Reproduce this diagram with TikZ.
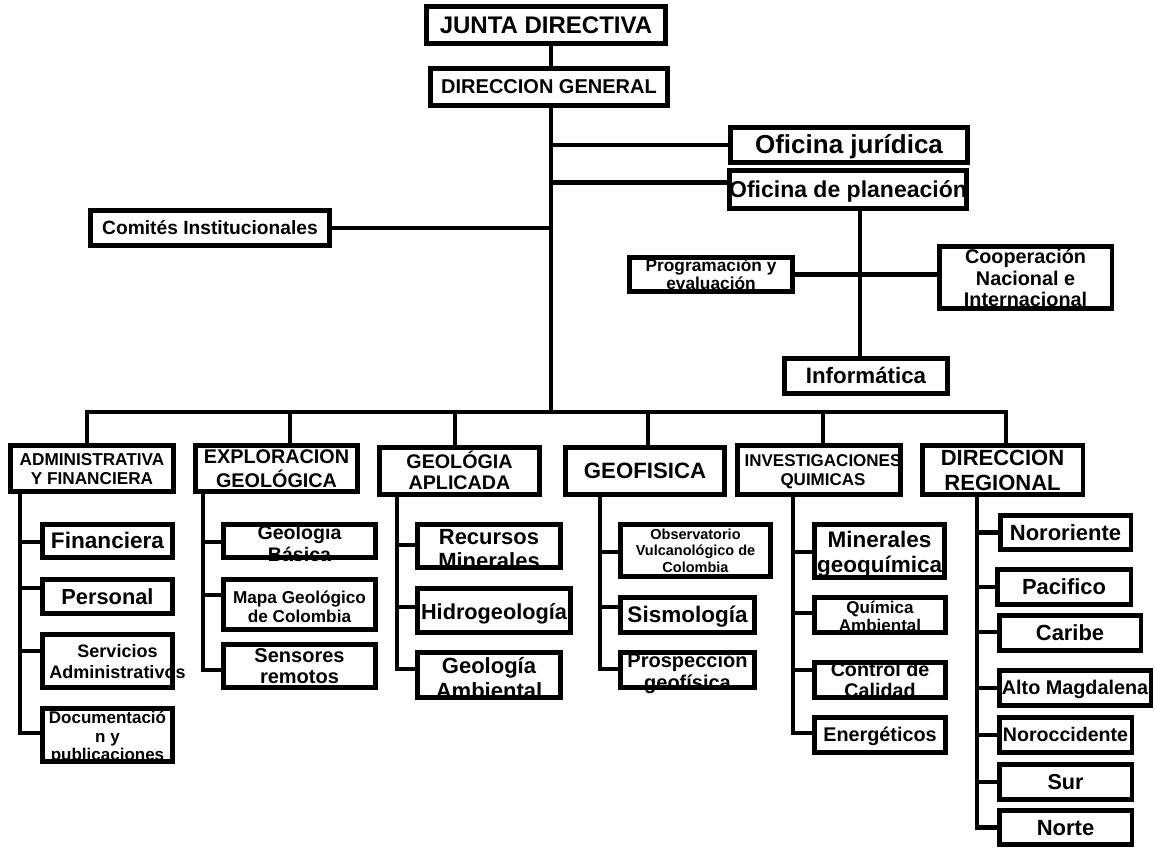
\documentclass[tikz,border=0pt]{standalone}
\usepackage{fontspec}
\setmainfont{Liberation Sans}
\usetikzlibrary{calc}

% 1 unit = 1 px of a 1155 x 848 canvas, y growing downwards
\newdimen\px \px=0.75pt
\newcommand\fsz[2]{\fontsize{\fpeval{#1*0.75}pt}{\fpeval{#2*0.75}pt}\selectfont\bfseries}
% zero-size text block, centred on the node and shifted by (dx,dy) px
\newcommand\zc[3]{\vbox to 0pt{\kern#2\px\kern#2\px\kern.26em\vss
  \hbox to 0pt{\hss\kern#1\px\kern#1\px\begin{tabular}{@{}c@{}}#3\end{tabular}\hss}\vss}}
% box given by its outer corners (x1,y1)-(x2,y2), font size and leading in px
\newcommand\bx[8]{%
  \pgfmathsetmacro\bw{(#4-#2-4.5)*0.75}%
  \pgfmathsetmacro\bh{(#5-#3-4.5)*0.75}%
  \node[box, minimum width=\bw pt, minimum height=\bh pt, font=\fsz{#6}{#7}]
    (#1) at ({(#2+#4)/2},{(#3+#5)/2}) {#8};}
% branch from a vertical line to the west side of a box
\newcommand\br[3]{\draw[ln] ($(#2.west)+(0,#3)$) coordinate (#2-b) -- (#1 |- #2-b);}

\tikzset{
  box/.style={shape=rectangle, inner sep=0pt, outer sep=0pt},
  frame/.style={draw=black, line width=3.4pt},
  ln/.style={draw=black, line width=3.3pt, line cap=rect}
}

\begin{document}
\begin{tikzpicture}[x=0.75pt, y=-0.75pt]
\useasboundingbox (0,0) rectangle (1155,848);

% --- upper part
\bx{jd}{424}{4}{668}{46}{24}{26}{\zc{0}{0}{JUNTA DIRECTIVA}}
\bx{dg}{428}{66}{670}{108}{20}{22}{\zc{0}{0}{DIRECCION GENERAL}}
\bx{oj}{728}{125}{970}{165}{26}{28}{\zc{0}{0}{Oficina jurídica}}
\bx{op}{727}{168}{969}{211}{23}{25}{\zc{0}{0}{Oficina de planeación}}
\bx{ci}{88}{208}{332}{248}{19.2}{21}{\zc{0}{0}{Comités Institucionales}}
\bx{pe}{627}{255}{795}{294}{17.3}{18}{\zc{0}{0}{Programación y\\evaluación}}
\bx{co}{937}{244}{1114}{311}{19.8}{21.5}{\zc{0}{1}{Cooperación\\Nacional e\\Internacional}}
\bx{inf}{782}{356}{950}{396}{22.3}{24}{\zc{0}{0}{Informática}}

% --- departments
\bx{adm}{8}{443}{176}{494}{17.2}{19}{\zc{0}{0}{ADMINISTRATIVA\\Y FINANCIERA}}
\bx{exp}{193}{443}{360}{494}{19.8}{21}{\zc{0}{0}{EXPLORACION\\GEOLÓGICA}}
\bx{geo}{377}{445}{542}{497}{19.7}{21}{\zc{0}{0}{GEOLÓGIA\\APLICADA}}
\bx{gf}{563}{445}{727}{497}{22.2}{24}{\zc{0}{0}{GEOFISICA}}
\bx{inv}{735}{443}{903}{497}{17}{19}{\zc{4}{0}{INVESTIGACIONES\\QUIMICAS}}
\bx{dr}{920}{443}{1085}{497}{22}{25}{\zc{0}{0}{DIRECCION\\REGIONAL}}

% --- units
\bx{fin}{40}{522}{175}{560}{22.6}{24}{\zc{0}{0}{Financiera}}
\bx{per}{40}{577}{175}{616}{21.8}{24}{\zc{0}{0}{Personal}}
\bx{ser}{40}{632}{175}{690}{18}{21}{\zc{10}{0}{Servicios\\Administrativos}}
\bx{doc}{40}{706}{175}{764}{17}{18.5}{\zc{0}{1.5}{Documentació\\n y\\publicaciones}}
\bx{gb}{221}{522}{378}{560}{19.6}{22}{\zc{0}{3}{Geologia\\Básica}}
\bx{mapa}{221}{577}{378}{632}{17.2}{19}{\zc{0}{2}{Mapa Geológico\\de Colombia}}
\bx{sen}{221}{642}{378}{690}{20}{21}{\zc{0}{0}{Sensores\\remotos}}
\bx{rm}{415}{522}{563}{570}{22}{24}{\zc{0}{3}{Recursos\\Minerales}}
\bx{hid}{415}{586}{573}{635}{21.7}{24}{\zc{0}{1.5}{Hidrogeología}}
\bx{ga}{415}{650}{563}{700}{22}{25}{\zc{0}{3}{Geología\\Ambiental}}
\bx{obs}{618}{522}{773}{579}{14.5}{16.5}{\zc{0}{0}{Observatorio\\Vulcanológico de\\Colombia}}
\bx{sis}{618}{595}{757}{635}{22.5}{24}{\zc{0}{0}{Sismología}}
\bx{pro}{618}{650}{757}{690}{20}{22}{\zc{0}{1}{Prospección\\geofísica}}
\bx{mg}{812}{522}{947}{580}{22.5}{25}{\zc{0}{1}{Minerales\\geoquímica}}
\bx{qa}{812}{595}{948}{635}{17}{18}{\zc{0}{2}{Química\\Ambiental}}
\bx{cc}{812}{660}{948}{700}{19.7}{21}{\zc{0}{0}{Control de\\Calidad}}
\bx{en}{812}{715}{948}{755}{19.8}{22}{\zc{0}{0}{Energéticos}}
\bx{nor}{998}{513}{1133}{552}{22}{24}{\zc{0}{0}{Nororiente}}
\bx{pac}{995}{567}{1133}{607}{21.9}{24}{\zc{0}{0}{Pacifico}}
\bx{car}{997}{613}{1143}{653}{21.9}{24}{\zc{0}{0}{Caribe}}
\bx{alto}{997}{668}{1153}{708}{19.8}{22}{\zc{0}{0}{Alto Magdalena}}
\bx{noc}{997}{715}{1134}{755}{19.6}{22}{\zc{0}{0}{Noroccidente}}
\bx{sur}{997}{762}{1134}{802}{21.6}{24}{\zc{0}{0}{Sur}}
\bx{nte}{997}{808}{1134}{847}{22}{24}{\zc{0}{0}{Norte}}

% --- trunk and staff offices
\coordinate (tr) at (551,0);
\coordinate (pv) at (860,0);
\draw[ln] (jd.south -| tr) -- (dg.north -| tr);
\coordinate (b1) at (87,412);
\coordinate (b2) at (290,412);
\coordinate (b3) at (455,412);
\coordinate (b4) at (648,412);
\coordinate (b5) at (823,412);
\coordinate (b6) at (1006,412);
\draw[ln] (dg.south -| tr) -- (tr |- b1);
\draw[ln] (oj.west -| tr) -- (oj.west);
\draw[ln] ($(op.west)+(0,-7)$) coordinate (op-b) -- (tr |- op-b);
\draw[ln] (ci.east) -- (ci.east -| tr);
\draw[ln] (op.south -| pv) -- (inf.north -| pv);
\draw[ln] (pe.east) -- (pe.east -| co.west);

% --- bus to the departments
\draw[ln, line join=miter] (b1 |- adm.north) -- (b1) -- (b6) -- (b6 |- dr.north);
\foreach \d/\n in {b2/exp, b3/geo, b4/gf, b5/inv}
  \draw[ln] (\d) -- (\d |- \n.north);

% --- department columns
\coordinate (v1) at (20,0);
\coordinate (v2) at (203,0);
\coordinate (v3) at (397,0);
\coordinate (v4) at (600,0);
\coordinate (v5) at (793,0);
\coordinate (v6) at (977,0);

\br{v1}{fin}{1} \br{v1}{per}{-8.5} \br{v1}{ser}{-10} \br{v1}{doc}{-2}
\draw[ln] (v1 |- adm.south) -- (v1 |- doc-b);

\br{v2}{gb}{1} \br{v2}{mapa}{-9.5} \br{v2}{sen}{4}
\draw[ln] (v2 |- exp.south) -- (v2 |- sen-b);

\br{v3}{rm}{-1} \br{v3}{hid}{-3.5} \br{v3}{ga}{-6}
\draw[ln] (v3 |- geo.south) -- (v3 |- ga-b);

\br{v4}{obs}{1.5} \br{v4}{sis}{-8} \br{v4}{pro}{-1}
\draw[ln] (v4 |- gf.south) -- (v4 |- pro-b);

\br{v5}{mg}{1} \br{v5}{qa}{-2} \br{v5}{cc}{-10} \br{v5}{en}{-2}
\draw[ln] (v5 |- inv.south) -- (v5 |- en-b);

\br{v6}{nor}{0} \br{v6}{pac}{0} \br{v6}{car}{-1} \br{v6}{alto}{0}
\br{v6}{noc}{0} \br{v6}{sur}{0} \br{v6}{nte}{0}
\draw[ln] (v6 |- dr.south) -- (v6 |- nte-b);

% --- box outlines, drawn over the texts
\foreach \n in {jd,dg,oj,op,ci,pe,co,inf,adm,exp,geo,gf,inv,dr,
  fin,per,ser,doc,gb,mapa,sen,rm,hid,ga,obs,sis,pro,mg,qa,cc,en,
  nor,pac,car,alto,noc,sur,nte}
  \draw[frame] (\n.south west) rectangle (\n.north east);
\end{tikzpicture}
\end{document}
